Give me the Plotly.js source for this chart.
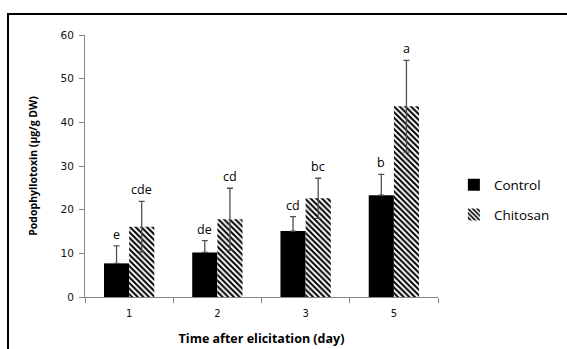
<!DOCTYPE html>
<html><head><meta charset="utf-8">
<script src="https://cdn.plot.ly/plotly-3.0.1.min.js"></script>
<style>
html,body{margin:0;padding:0;background:#fff;}
#wrap{position:relative;width:567px;height:349px;overflow:hidden;}
#chart{position:absolute;left:0;top:0;width:567px;height:349px;}
#frame{position:absolute;left:7px;top:13px;width:600px;height:400px;border-top:2px solid #000;border-left:2px solid #000;pointer-events:none;}
</style></head>
<body><div id="wrap"><div id="chart"></div><div id="frame"></div></div>
<script>
const days = ['1','2','3','5'];
const control = [7.7, 10.2, 15.1, 23.3];
const controlErr = [4.0, 2.7, 3.3, 4.8];
const chitosan = [16.1, 17.8, 22.6, 43.7];
const chitosanErr = [5.8, 7.1, 4.6, 10.5];
const controlLetters = ['e','de','cd','b'];
const chitosanLetters = ['cde','cd','bc','a'];

const BARGAP = 0.43;
const half = (1 - BARGAP) / 4;

const errStyle = (plus, minus) => ({type:'data', array:plus, arrayminus:minus, symmetric:false, visible:true, color:'#505050', thickness:1.3, width:3});

const traces = [
  {type:'bar', name:'Control', x:days, y:control, marker:{color:'#000'}, error_y:errStyle(controlErr, controlErr.map(()=>0)), legendgroup:'a'},
  {type:'bar', name:'Chitosan', x:days, y:chitosan,
   marker:{color:'#fff', pattern:{shape:'\\', fgcolor:'#000', bgcolor:'#fff', size:4, solidity:0.5}},
   error_y:errStyle(chitosanErr, chitosanErr), legendgroup:'b'}
];

const annotations = [];
days.forEach((d,i)=>{
  annotations.push({x:i-half, y:control[i]+controlErr[i], text:controlLetters[i], showarrow:false, xref:'x', yref:'y', yanchor:'bottom', yshift:1, font:{family:'Open Sans', size:12.5, color:'#000'}});
  annotations.push({x:i+half, y:chitosan[i]+chitosanErr[i], text:chitosanLetters[i], showarrow:false, xref:'x', yref:'y', yanchor:'bottom', yshift:1, font:{family:'Open Sans', size:12.5, color:'#000'}});
});

const layout = {
  width:567, height:349,
  margin:{l:85, r:105, t:35, b:52},
  paper_bgcolor:'#fff', plot_bgcolor:'#fff',
  barmode:'group', bargap:BARGAP, bargroupgap:0,
  font:{family:'DejaVu Sans', color:'#000'},
  xaxis:{type:'category', showline:true, linecolor:'#868686', linewidth:1, ticks:'outside', tickson:'boundaries', ticklen:5, tickcolor:'#868686',
    tickfont:{family:'DejaVu Sans', size:10, color:'#111'}, ticklabelstandoff:7, showgrid:false, zeroline:false,
    title:{text:'<b>Time after elicitation (day)</b>', font:{family:'Open Sans', size:12.5, color:'#000'}, standoff:16}},
  yaxis:{range:[0,60], dtick:10, showline:true, linecolor:'#868686', linewidth:1, ticks:'outside', ticklen:5, tickcolor:'#868686',
    tickfont:{family:'DejaVu Sans', size:10.5, color:'#111'}, ticklabelstandoff:3, showgrid:false, zeroline:false,
    title:{text:'<b>Podophyllotoxin (µg/g DW)</b>', font:{family:'Open Sans', size:10.5, color:'#000'}, standoff:20}},
  legend:{x:1.045, xanchor:'left', y:0.37, yanchor:'middle', traceorder:'grouped', tracegroupgap:9, itemwidth:30,
    font:{family:'Open Sans', size:13.5, color:'#000'}, bgcolor:'rgba(0,0,0,0)'},
  annotations:annotations,
  showlegend:true
};
Plotly.newPlot('chart', traces, layout, {displayModeBar:false, staticPlot:true});
</script></body></html>
